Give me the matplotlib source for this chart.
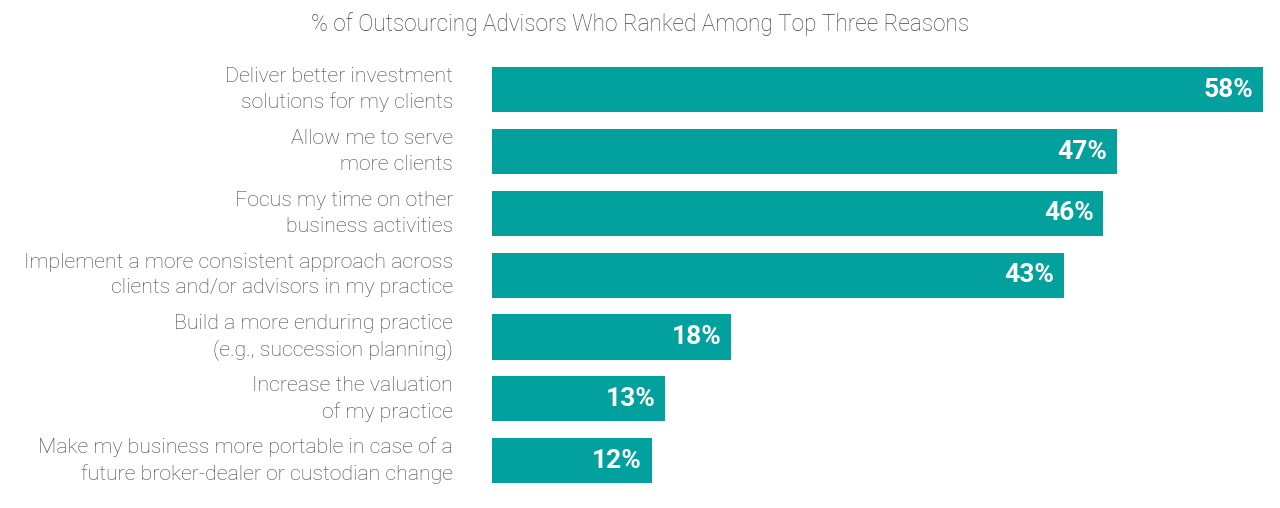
import matplotlib.pyplot as plt

reasons = [
    "Deliver better investment\nsolutions for my clients",
    "Allow me to serve\nmore clients",
    "Focus my time on other\nbusiness activities",
    "Implement a more consistent approach across\nclients and/or advisors in my practice",
    "Build a more enduring practice\n(e.g., succession planning)",
    "Increase the valuation\nof my practice",
    "Make my business more portable in case of a\nfuture broker-dealer or custodian change",
]
pct = [58, 47, 46, 43, 18, 13, 12]
title = "% of Outsourcing Advisors Who Ranked Among Top Three Reasons"

teal = "#02a19d"
grey = "#444444"

fig = plt.figure(figsize=(12.8, 5.08), dpi=100)
ax = fig.add_axes([492 / 1280, 0.0323, (1263 - 492) / 1280, 0.852])

ypos = list(range(len(pct)))
ax.barh(ypos, pct, height=0.73, color=teal)
ax.set_xlim(0, 58)
ax.set_ylim(len(pct) - 0.5, -0.5)

for y, v in zip(ypos, pct):
    ax.annotate(f"{v}%", xy=(v, y), xytext=(-7, 0), textcoords="offset points",
                ha="right", va="center", color="white", fontsize=19,
                fontweight="bold", family="Roboto")
    ax.annotate(reasons[y], xy=(0, y), xytext=(-28, 0), textcoords="offset points",
                ha="right", va="center", fontsize=15.3, color=grey,
                family="Roboto", fontweight="light", linespacing=1.42)

fig.text(0.5, 1 - 24 / 508, title, ha="center", va="center", fontsize=16.3,
         color=grey, family="Roboto", fontweight="light")

ax.axis("off")
fig.savefig("out.png", dpi=100, facecolor="white")
